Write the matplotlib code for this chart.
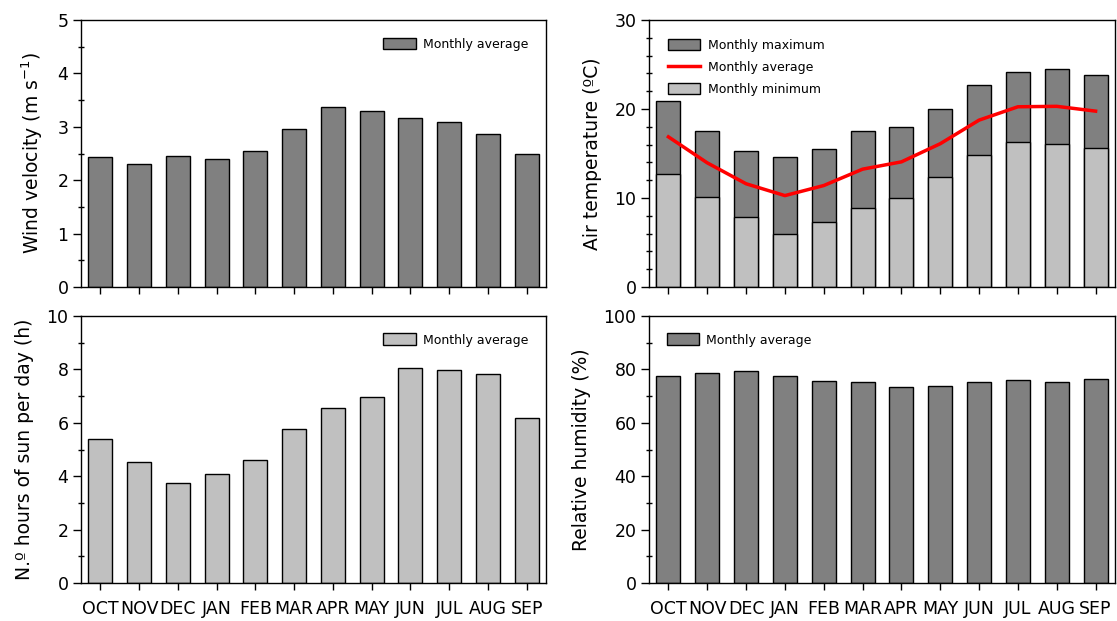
import matplotlib
matplotlib.use("Agg")
import matplotlib.pyplot as plt
from matplotlib.ticker import MultipleLocator
from matplotlib.patches import Patch
from matplotlib.lines import Line2D
import numpy as np

months = ["OCT", "NOV", "DEC", "JAN", "FEB", "MAR", "APR", "MAY", "JUN", "JUL", "AUG", "SEP"]

wind_avg = [2.44, 2.31, 2.46, 2.39, 2.55, 2.96, 3.38, 3.30, 3.17, 3.09, 2.86, 2.50]

temp_max = [20.9, 17.55, 15.25, 14.6, 15.5, 17.55, 18.0, 20.0, 22.7, 24.2, 24.5, 23.8]
temp_min = [12.67, 10.1, 7.87, 5.92, 7.27, 8.85, 10.0, 12.34, 14.85, 16.3, 16.12, 15.6]
temp_avg = [16.87, 13.95, 11.6, 10.27, 11.4, 13.24, 14.06, 16.1, 18.75, 20.25, 20.3, 19.76]

sun_hours = [5.39, 4.55, 3.76, 4.10, 4.60, 5.75, 6.56, 6.96, 8.05, 7.98, 7.83, 6.18]

humidity = [77.6, 78.5, 79.5, 77.6, 75.75, 75.25, 73.5, 73.75, 75.4, 76.0, 75.4, 76.5]

DARK = "#808080"
LIGHT = "#c0c0c0"
RED = "#ff0000"
BAR_W = 0.62

plt.rcParams["font.family"] = ["DejaVu Sans"]

fig = plt.figure(figsize=(11.17, 6.21), dpi=100)
W, H = 1117, 621


def make_axes(x0, x1, y0, y1):
    return fig.add_axes([x0 / W, 1 - y1 / H, (x1 - x0) / W, (y1 - y0) / H])


ax_wind = make_axes(81, 546, 20, 287)
ax_temp = make_axes(649, 1115, 20, 287)
ax_sun = make_axes(81, 546, 316, 583)
ax_hum = make_axes(649, 1115, 316, 583)

x = np.arange(len(months))
bar_kw = dict(width=BAR_W, edgecolor="black", linewidth=1.0)
leg_kw = dict(frameon=False, fontsize=9, handlelength=2.6, handleheight=1.05,
              handletextpad=0.6)
LABEL_FS = 13.5
LABEL_PAD = 9


def style(ax, ymax, major, minor, show_labels):
    ax.set_xlim(-0.5, 11.5)
    ax.set_ylim(0, ymax)
    ax.yaxis.set_major_locator(MultipleLocator(major))
    ax.yaxis.set_minor_locator(MultipleLocator(minor))
    ax.set_xticks(x)
    if show_labels:
        ax.set_xticklabels(months, fontsize=12.5)
    else:
        ax.set_xticklabels([])
    ax.tick_params(axis="y", which="major", direction="out", length=6, width=1,
                   labelsize=12.5, pad=3)
    ax.tick_params(axis="y", which="minor", direction="inout", length=5, width=1)
    ax.tick_params(axis="x", which="major", direction="out", length=5, width=1, pad=7)
    for s in ax.spines.values():
        s.set_linewidth(1.0)
        s.set_color("black")


# Wind velocity
ax_wind.bar(x, wind_avg, color=DARK, **bar_kw)
style(ax_wind, 5, 1, 0.5, False)
ax_wind.set_ylabel("Wind velocity (m s$^{\\mathregular{-1}}$)", fontsize=LABEL_FS,
                   labelpad=LABEL_PAD)
ax_wind.legend(handles=[Patch(facecolor=DARK, edgecolor="black", linewidth=1.0,
                              label="Monthly average")],
               loc="upper right", borderaxespad=1.0, **leg_kw)

# Air temperature
ax_temp.bar(x, temp_max, color=DARK, **bar_kw)
ax_temp.bar(x, temp_min, color=LIGHT, **bar_kw)
ax_temp.plot(x, temp_avg, color=RED, linewidth=2.5, zorder=5)
style(ax_temp, 30, 10, 2, False)
ax_temp.set_ylabel("Air temperature (ºC)", fontsize=LABEL_FS, labelpad=LABEL_PAD)
ax_temp.legend(handles=[
    Patch(facecolor=DARK, edgecolor="black", linewidth=1.0, label="Monthly maximum"),
    Line2D([0], [0], color=RED, linewidth=2.5, label="Monthly average"),
    Patch(facecolor=LIGHT, edgecolor="black", linewidth=1.0, label="Monthly minimum"),
], loc="upper left", labelspacing=0.72, borderaxespad=1.1, **leg_kw)

# Hours of sun
ax_sun.bar(x, sun_hours, color=LIGHT, **bar_kw)
style(ax_sun, 10, 2, 1, True)
ax_sun.set_ylabel("N.º hours of sun per day (h)", fontsize=LABEL_FS, labelpad=LABEL_PAD)
ax_sun.legend(handles=[Patch(facecolor=LIGHT, edgecolor="black", linewidth=1.0,
                             label="Monthly average")],
              loc="upper right", borderaxespad=1.0, **leg_kw)

# Relative humidity
ax_hum.bar(x, humidity, color=DARK, **bar_kw)
style(ax_hum, 100, 20, 10, True)
ax_hum.set_ylabel("Relative humidity (%)", fontsize=LABEL_FS, labelpad=LABEL_PAD)
ax_hum.legend(handles=[Patch(facecolor=DARK, edgecolor="black", linewidth=1.0,
                             label="Monthly average")],
              loc="upper left", borderaxespad=1.0, **leg_kw)

fig.savefig("out.png", dpi=100)
